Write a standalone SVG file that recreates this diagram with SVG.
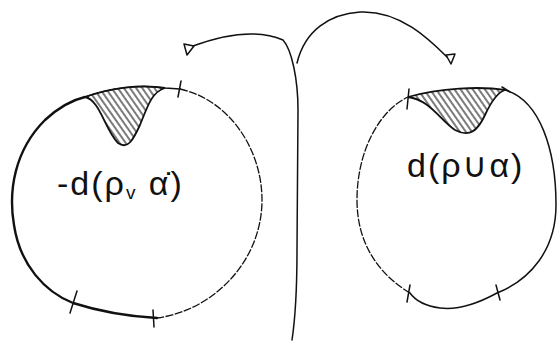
<svg xmlns="http://www.w3.org/2000/svg" width="558" height="342" viewBox="0 0 558 342">
<defs>
<pattern id="hatch" width="5" height="5" patternUnits="userSpaceOnUse" patternTransform="rotate(-35)">
<line x1="1" y1="0" x2="1" y2="5" stroke="#222" stroke-width="1.2"/>
</pattern>
</defs>
<style>
.ln{fill:none;stroke:#111;stroke-width:1.5;stroke-linecap:round;stroke-linejoin:round}
.thin{fill:none;stroke:#111;stroke-width:1.3;stroke-dasharray:8 1.5}
.thick{fill:none;stroke:#111;stroke-width:2.4;stroke-linecap:round}
.bump{fill:url(#hatch);stroke:#111;stroke-width:1.8}
.lbl{font-family:"Liberation Sans","DejaVu Sans",sans-serif;fill:#111;font-size:34px;letter-spacing:2px}
</style>
<rect width="558" height="342" fill="#fff"/>
<g id="left-region">
<path class="thin" d="M180,89 C230,100 262,150 262,200 C262,260 215,310 157,318"/>
<path class="thick" d="M157,318 C120,316 95,310 73,303 C45,292 20,265 14,225 C8,190 15,150 45,120 C58,108 72,100 85,97"/>
<path class="ln" d="M85,97 C110,88 140,84 165,88 L180,89"/>
<path class="bump" d="M85,97 C100,100 105,130 118,143 C128,150 133,140 140,125 C148,105 152,92 165,88 C140,84 110,88 85,97 Z"/>
<path class="ln" d="M181,81 L178,97 M77,291 L70,313 M153,310 L154,327"/>
<text class="lbl" x="57" y="195">-d(ρ<tspan font-size="19" dy="4">v</tspan><tspan dy="-4"> α̇)</tspan></text>
</g>
<g id="right-region">
<path class="ln" d="M505,90 C540,100 556,150 556,205 C556,250 530,280 497,293 C475,305 455,310 440,308 C425,306 415,300 410,293"/>
<path class="thin" d="M410,293 C380,275 357,245 357,200 C357,150 380,110 408,97"/>
<path class="bump" d="M408,97 C430,100 440,120 455,130 C470,138 478,130 485,115 C492,100 498,92 505,90 C480,86 440,88 408,97 Z"/>
<path class="ln" d="M409,89 L407,109 M410,285 L407,302 M496,285 L500,300 M502,87 L510,92"/>
<text class="lbl" x="407" y="177">d(ρ∪α)</text>
</g>
<g id="connectors">
<path class="ln" d="M193,46 C220,36 255,28 283,40 C292,50 298,80 298,110 L297,250 C297,300 295,320 292,340"/>
<path class="ln" d="M184,44 L194,46 L187,55 Z"/>
<path class="ln" d="M297,63 C305,30 330,14 360,12 C400,10 430,40 447,57"/>
<path class="ln" d="M446,55 L455,54 L451,64 Z"/>
</g>
</svg>
